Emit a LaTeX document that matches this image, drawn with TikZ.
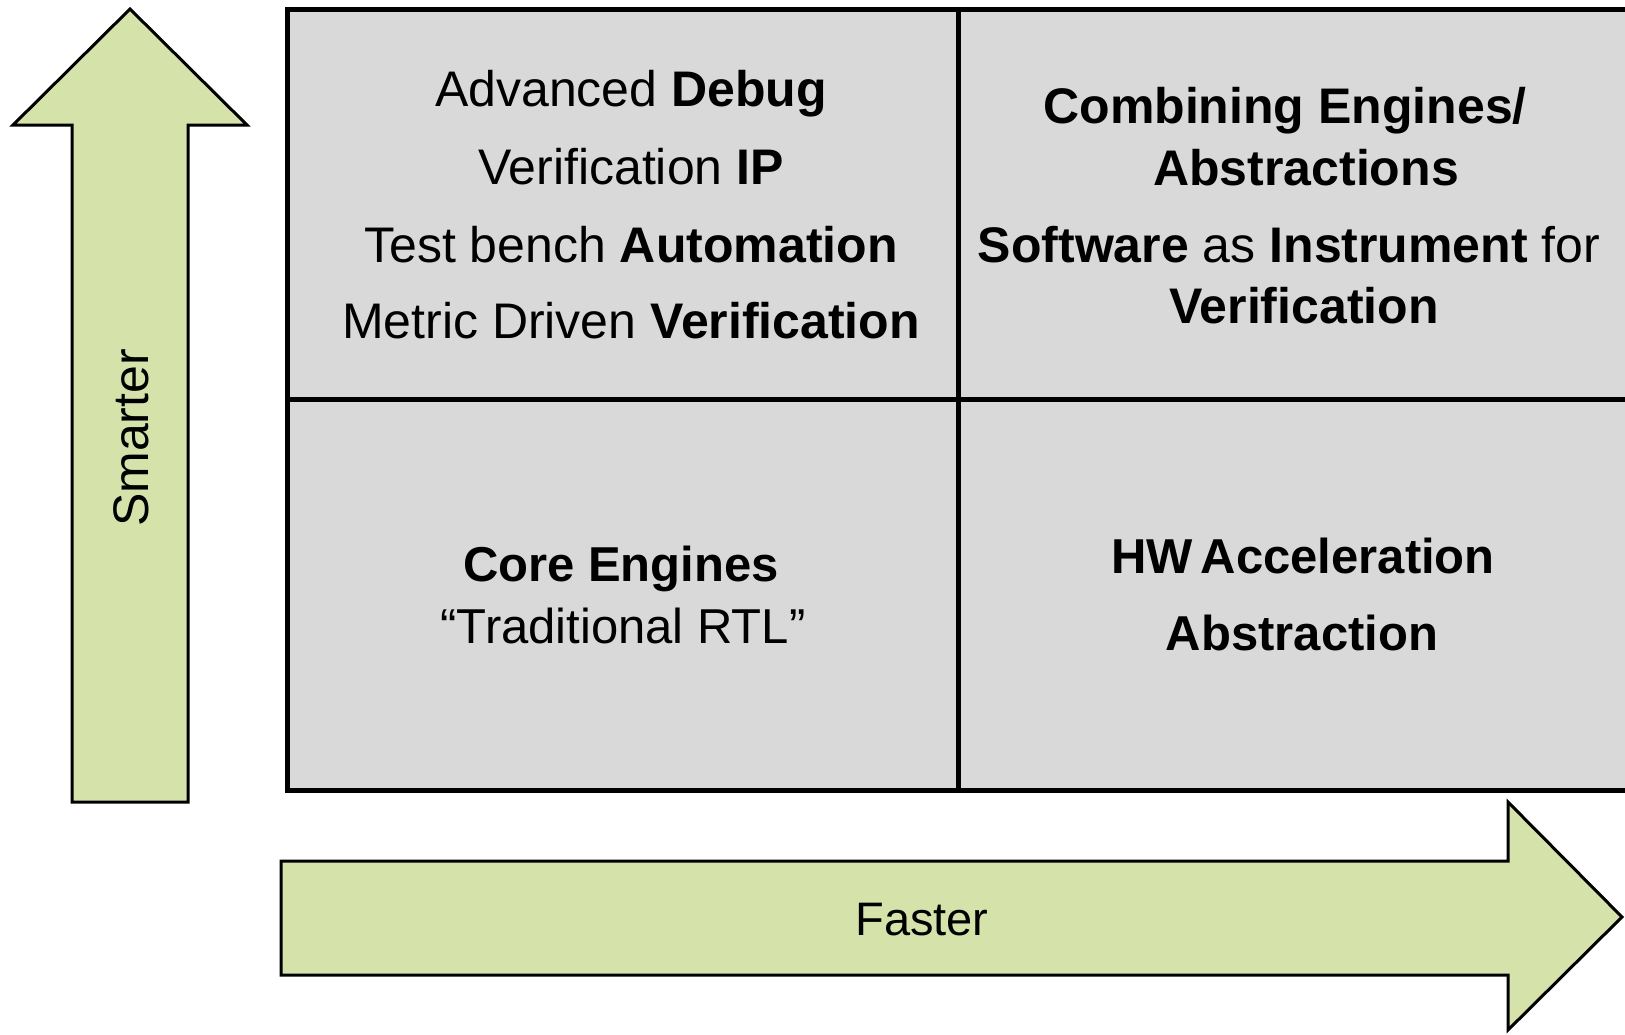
\documentclass[tikz,border=0pt]{standalone}
\usepackage{fontspec}
\setmainfont{Liberation Sans}
\definecolor{arrowgreen}{RGB}{213,227,170}
\definecolor{cellgray}{RGB}{217,217,217}
\begin{document}
\begin{tikzpicture}[x=1pt,y=-1pt,
  arrowshape/.style={fill=arrowgreen, draw=black, line width=3pt, line join=miter},
  gridline/.style={draw=black, line width=5pt},
  txt/.style={anchor=base, inner sep=0pt},
  toptext/.style={txt, font=\fontsize{50}{60}\selectfont},
  bottext/.style={txt, font=\fontsize{49}{60}\selectfont}]
\useasboundingbox (0,0) rectangle (1625,1034);
\clip (0,0) rectangle (1625,1034);
\fill[white] (0,0) rectangle (1625,1034);

% quadrant grid
\fill[cellgray] (287,9) rectangle (1660,790);
\draw[gridline] (958,9) -- (958,790);
\draw[gridline] (287,399) -- (1660,399);
\draw[gridline] (1660,9) -- (287,9) -- (287,790) -- (1660,790);

% upward arrow: Smarter
\draw[arrowshape] (130,9) -- (247,125) -- (188,125) -- (188,802) -- (72,802)
  -- (72,125) -- (13,125) -- cycle;
\node[txt, rotate=90, font=\fontsize{50}{60}\selectfont] (smarter) at (148,438) {Smarter};

% rightward arrow: Faster
\draw[arrowshape] (1622,917) -- (1508,1030) -- (1508,975) -- (281,975) -- (281,861)
  -- (1508,861) -- (1508,802) -- cycle;
\node[txt, font=\fontsize{47}{56}\selectfont] (faster) at (922,935) {Faster};

% top-left cell
\node[toptext] (tl1) at (631,106.7) {Advanced \textbf{Debug}};
\node[toptext] (tl2) at (631,184) {Verification \textbf{IP}};
\node[toptext] (tl3) at (631,262) {Test bench \textbf{Automation}};
\node[toptext] (tl4) at (631,338) {Metric Driven \textbf{Verification}};

% top-right cell
\node[toptext] (tr1) at (1285,123) {\textbf{Combining Engines/}};
\node[toptext] (tr2) at (1306,185) {\textbf{Abstractions}};
\node[toptext] (tr3) at (1289,262) {\textbf{Software} as \textbf{Instrument} for};
\node[toptext] (tr4) at (1304,323) {\textbf{Verification}};

% bottom-left cell
\node[bottext] (bl1) at (621,581.7) {\textbf{Core Engines}};
\node[bottext] (bl2) at (623,643) {“Traditional RTL”};

% bottom-right cell
\node[bottext] (br1) at (1303,573) {\textbf{HW\kern8pt Acceleration}};
\node[bottext] (br2) at (1302,650) {\textbf{Abstraction}};
\end{tikzpicture}
\end{document}
